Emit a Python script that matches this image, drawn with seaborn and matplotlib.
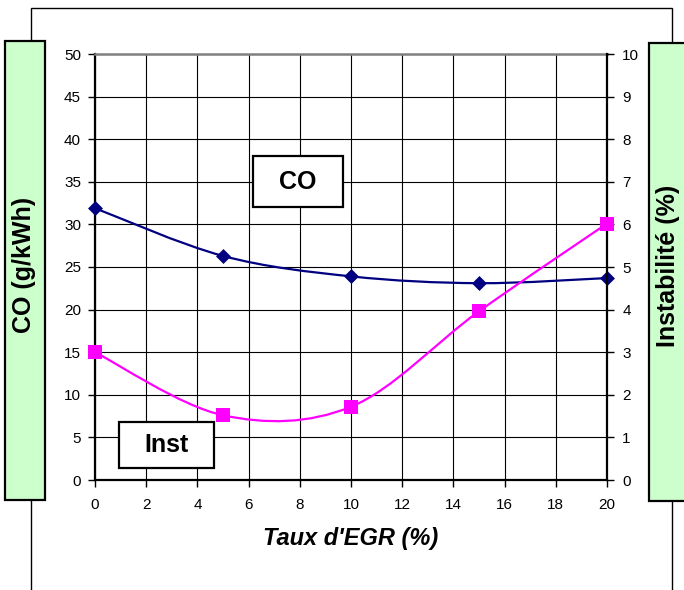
import numpy as np
import pandas as pd
import matplotlib
matplotlib.use("Agg")
import matplotlib.pyplot as plt
import seaborn as sns
from matplotlib.patches import Rectangle, PathPatch
from matplotlib.path import Path

# Taux d'EGR (%) and measured values
egr = [0, 5, 10, 15, 20]
co = [31.9, 26.3, 23.9, 23.1, 23.7]          # CO (g/kWh), left axis
instab = [3.0, 1.52, 1.72, 3.96, 6.02]       # Instabilité (%), right axis

x_ticks = list(range(0, 21, 2))
co_ticks = list(range(0, 51, 5))
inst_ticks = list(range(0, 11, 1))

sns.set_theme(style="white")
plt.rcParams["font.family"] = ["Liberation Sans", "DejaVu Sans"]

W, H = 684, 590
fig = plt.figure(figsize=(W / 100, H / 100), dpi=100)
fig.patch.set_facecolor("white")


def fx(x):
    return x / W


def fy(y):
    return 1 - y / H


def fig_box(x0, y0, x1, y1, fc="white", lw=1.5, z=2):
    fig.add_artist(Rectangle((fx(x0), fy(y1)), (x1 - x0) / W, (y1 - y0) / H,
                             transform=fig.transFigure, facecolor=fc,
                             edgecolor="black", linewidth=lw, zorder=z))


def smooth_path(xs, ys):
    """Catmull-Rom style cubic Bezier through the points (spreadsheet smoothing)."""
    pts = np.column_stack([xs, ys]).astype(float)
    n = len(pts)
    verts = [pts[0]]
    codes = [Path.MOVETO]
    for i in range(n - 1):
        p_prev = pts[max(i - 1, 0)]
        p0, p1 = pts[i], pts[i + 1]
        p_next = pts[min(i + 2, n - 1)]
        c1 = p0 + (p1 - p_prev) / 6.0
        c2 = p1 - (p_next - p0) / 6.0
        verts += [c1, c2, p1]
        codes += [Path.CURVE4] * 3
    return Path(verts, codes)


# outer frame, partly hidden by the title boxes
fig.add_artist(Rectangle((fx(30.5), fy(620)), (672 - 30.5) / W, (620 - 8) / H,
                         transform=fig.transFigure, facecolor="none",
                         edgecolor="black", linewidth=1.0, zorder=1))

ax = fig.add_axes([fx(95), fy(480), (607 - 95) / W, (480 - 54) / H])
ax2 = ax.twinx()

ax.set_xlim(0, 20)
ax.set_ylim(0, 50)
ax2.set_ylim(0, 10)
ax.set_xticks(x_ticks)
ax.set_yticks(co_ticks)
ax2.set_yticks(inst_ticks)

ax.grid(True, color="black", linewidth=0.8)
ax2.grid(False)
ax.set_axisbelow(True)

for a in (ax, ax2):
    for s in a.spines.values():
        s.set_visible(False)
ax.spines["left"].set_visible(True)
ax.spines["left"].set_color("black")
ax.spines["left"].set_linewidth(1.6)
ax.spines["bottom"].set_visible(True)
ax.spines["bottom"].set_color("black")
ax.spines["bottom"].set_linewidth(1.6)
ax.spines["top"].set_visible(True)
ax.spines["top"].set_color("#808080")
ax.spines["top"].set_linewidth(1.8)
ax2.spines["right"].set_visible(True)
ax2.spines["right"].set_color("black")
ax2.spines["right"].set_linewidth(1.6)

tick_kw = dict(direction="out", color="black", width=1.0, length=5,
               labelsize=11, labelcolor="black")
ax.tick_params(axis="y", left=True, pad=5, **tick_kw)
ax.tick_params(axis="x", bottom=True, pad=8, **tick_kw)
ax2.tick_params(axis="y", right=True, pad=6, **tick_kw)

# smoothed curves
ax.add_patch(PathPatch(smooth_path(egr, co), facecolor="none",
                       edgecolor="#000080", linewidth=1.6, zorder=3))
ax2.add_patch(PathPatch(smooth_path(egr, instab), facecolor="none",
                        edgecolor="#FF00FF", linewidth=1.6, zorder=3))

df = pd.DataFrame({"egr": egr, "co": co, "inst": instab})
sns.scatterplot(data=df, x="egr", y="co", marker="D", s=58, color="#000080",
                edgecolor="#000080", linewidth=0, ax=ax, zorder=5, clip_on=False)
sns.scatterplot(data=df, x="egr", y="inst", marker="s", s=100, color="#FF00FF",
                edgecolor="#FF00FF", linewidth=0, ax=ax2, zorder=5, clip_on=False)

ax.set_ylabel("")
ax2.set_ylabel("")
ax.set_xlabel("Taux d'EGR (%)", fontsize=17, fontweight="bold",
              fontstyle="italic", color="black")
ax.xaxis.set_label_coords(0.5, -0.11)

# axis title boxes
fig_box(5, 41, 45, 500, fc="#CCFFCC", lw=1.6)
fig_box(649, 43, 700, 501, fc="#CCFFCC", lw=1.6)
fig.text(fx(24.5), fy(265), "CO (g/kWh)", rotation=90, ha="center", va="center",
         fontsize=18, fontweight="bold", color="black", zorder=3)
fig.text(fx(668), fy(266), "Instabilité (%)", rotation=90, ha="center", va="center",
         fontsize=18, fontweight="bold", color="black", zorder=3)

# series labels
fig_box(253, 156, 343, 207, lw=1.6)
fig.text(fx(298), fy(182), "CO", ha="center", va="center",
         fontsize=18, fontweight="bold", color="black", zorder=3)
fig_box(119, 422, 214, 468, lw=1.6)
fig.text(fx(166.5), fy(445), "Inst", ha="center", va="center",
         fontsize=18, fontweight="bold", color="black", zorder=3)

fig.savefig("out.png", dpi=100)
